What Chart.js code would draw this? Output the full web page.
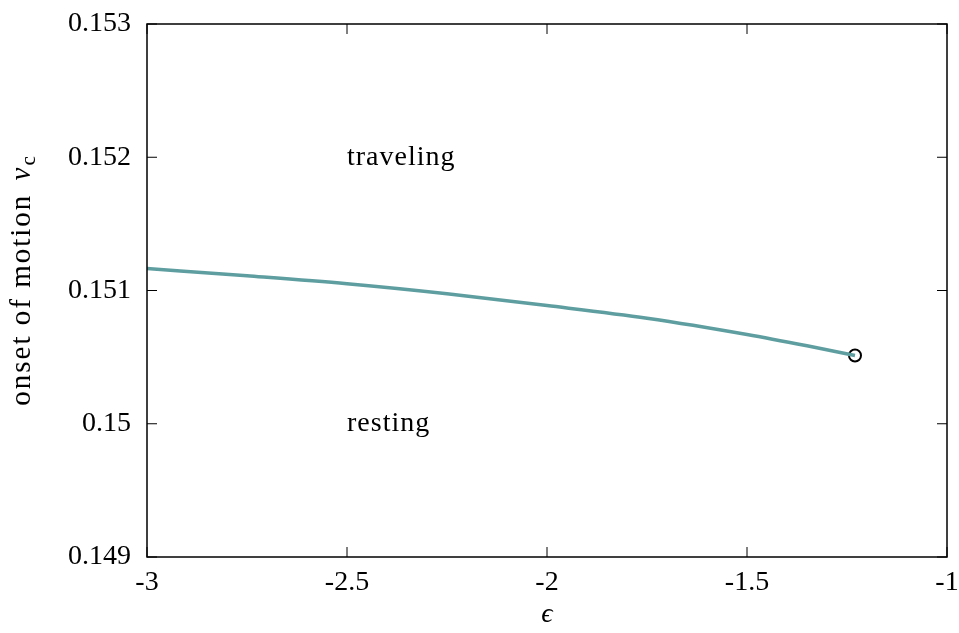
<!DOCTYPE html>
<html>
<head>
<meta charset="utf-8">
<script src="https://cdn.jsdelivr.net/npm/chart.js@4"></script>
<style>
  html, body { margin: 0; padding: 0; background: #fff; }
  #wrap { width: 959px; height: 633px; }
</style>
</head>
<body>
<div id="wrap"><canvas id="myChart"></canvas></div>
<script>
// values
const epsValues = [-3, -2.75, -2.5, -2.25, -2, -1.75, -1.5, -1.35, -1.23];
const vcValues = [0.151165, 0.151110, 0.151050, 0.150975, 0.150887, 0.150792, 0.150670, 0.150585, 0.150512];
const endPoint = [-1.23, 0.150512];
const xTicks = [-3, -2.5, -2, -1.5, -1];
const xTickLabels = ['-3', '-2.5', '-2', '-1.5', '-1'];
const yTicks = [0.149, 0.150, 0.151, 0.152, 0.153];
const yTickLabels = ['0.149', '0.15', '0.151', '0.152', '0.153'];
const regionLabels = [
    { text: 'traveling', x: -2.5, y: 0.152 },
    { text: 'resting', x: -2.5, y: 0.150 }
];

const FONT = '"Liberation Serif", "DejaVu Serif", serif';
const lineColor = '#5f9ea0';

// gnuplot style frame with inward ticks on all four sides, tick labels and text labels
const framePlugin = {
    id: 'frame',
    afterDraw(chart) {
        const ctx = chart.ctx;
        const a = chart.chartArea;
        const xs = chart.scales.x, ys = chart.scales.y;
        ctx.save();
        ctx.strokeStyle = '#000';
        ctx.lineWidth = 1.5;
        ctx.strokeRect(a.left, a.top, a.right - a.left, a.bottom - a.top);
        ctx.lineWidth = 1;
        ctx.beginPath();
        xTicks.forEach(function (v) {
            const px = xs.getPixelForValue(v);
            ctx.moveTo(px, a.bottom); ctx.lineTo(px, a.bottom - 10);
            ctx.moveTo(px, a.top); ctx.lineTo(px, a.top + 10);
        });
        yTicks.forEach(function (v) {
            const py = ys.getPixelForValue(v);
            ctx.moveTo(a.left, py); ctx.lineTo(a.left + 10, py);
            ctx.moveTo(a.right, py); ctx.lineTo(a.right - 10, py);
        });
        ctx.stroke();

        ctx.fillStyle = '#000';
        ctx.font = '28px ' + FONT;
        ctx.textBaseline = 'middle';
        ctx.textAlign = 'right';
        yTicks.forEach(function (v, i) {
            ctx.fillText(yTickLabels[i], a.left - 16, ys.getPixelForValue(v));
        });
        ctx.textAlign = 'center';
        xTicks.forEach(function (v, i) {
            ctx.fillText(xTickLabels[i], xs.getPixelForValue(v), a.bottom + 26);
        });

        ctx.textAlign = 'left';
        ctx.letterSpacing = '1px';
        regionLabels.forEach(function (l) {
            ctx.fillText(l.text, xs.getPixelForValue(l.x), ys.getPixelForValue(l.y));
        });
        ctx.letterSpacing = '0px';

        // x axis title
        ctx.font = 'italic 28px ' + FONT;
        ctx.textAlign = 'center';
        ctx.fillText('ϵ', (a.left + a.right) / 2, a.bottom + 58);

        // y axis title with subscript
        ctx.translate(30, 280);
        ctx.rotate(-Math.PI / 2);
        ctx.textAlign = 'left';
        ctx.letterSpacing = '2px';
        const main = 'onset of motion ';
        ctx.font = '29px ' + FONT;
        const w1 = ctx.measureText(main).width + 4;
        ctx.font = 'italic 29px ' + FONT;
        const w2 = ctx.measureText('v').width;
        ctx.font = '21px ' + FONT;
        const w3 = ctx.measureText('c').width;
        let x0 = -(w1 + w2 + w3) / 2;
        ctx.textBaseline = 'alphabetic';
        ctx.font = '29px ' + FONT;
        ctx.fillText(main, x0, 0);
        ctx.font = 'italic 29px ' + FONT;
        ctx.fillText('v', x0 + w1, 0);
        ctx.font = '21px ' + FONT;
        ctx.fillText('c', x0 + w1 + w2, 5);
        ctx.restore();
    }
};

const ctx1 = document.getElementById('myChart');
const curve = epsValues.map(function (x, i) { return { x: x, y: vcValues[i] }; });

const myChart = new Chart(ctx1, {
    type: 'scatter',
    data: {
        datasets: [{
            data: curve,
            showLine: true,
            borderColor: lineColor,
            borderWidth: 3.5,
            pointRadius: 0,
            cubicInterpolationMode: 'monotone'
        }, {
            data: [{ x: endPoint[0], y: endPoint[1] }],
            pointRadius: 6,
            pointBorderWidth: 2,
            pointBorderColor: '#000',
            pointBackgroundColor: 'rgba(0,0,0,0)'
        }]
    },
    options: {
        responsive: true,
        maintainAspectRatio: false,
        animation: false,
        layout: { padding: { top: 24, right: 12, left: 0, bottom: 0 } },
        plugins: { legend: { display: false }, tooltip: { enabled: false } },
        scales: {
            x: {
                type: 'linear',
                min: -3, max: -1,
                grid: { display: false },
                border: { display: false },
                afterBuildTicks: function (s) { s.ticks = xTicks.map(function (v) { return { value: v }; }); },
                afterFit: function (s) { s.height = 76; },
                ticks: { display: false }
            },
            y: {
                type: 'linear',
                min: 0.149, max: 0.153,
                grid: { display: false },
                border: { display: false },
                afterBuildTicks: function (s) { s.ticks = yTicks.map(function (v) { return { value: v }; }); },
                afterFit: function (s) { s.width = 147; },
                ticks: { display: false }
            }
        }
    },
    plugins: [framePlugin]
});
</script>
</body>
</html>
